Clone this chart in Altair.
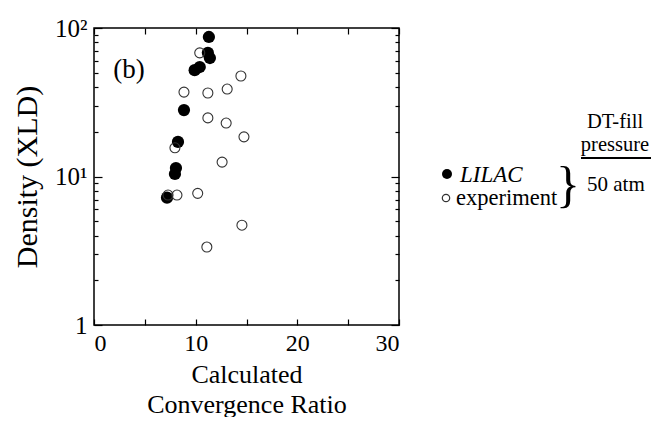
import altair as alt
import pandas as pd

# LILAC (calculated) points
lilac_x = [11.3, 11.2, 11.4, 10.4, 9.9, 8.85, 8.26, 8.06, 7.96, 7.18]
lilac_y = [87, 68, 62.8, 54.6, 52, 28, 17.1, 11.4, 10.4, 7.2]
# experiment points
exp_x = [10.4, 14.45, 8.85, 11.2, 13.1, 11.2, 13.0, 14.75, 7.96, 12.6, 7.28, 8.16, 10.2, 14.55, 11.1]
exp_y = [68, 47.5, 37, 36.5, 38.8, 24.8, 22.9, 18.5, 15.6, 12.5, 7.5, 7.5, 7.7, 4.7, 3.35]

x_ticks = [0, 5, 10, 15, 20, 25, 30]
x_labels = [0, 10, 20, 30]
y_ticks = [1, 2, 3, 4, 5, 6, 7, 8, 9, 10, 20, 30, 40, 50, 60, 70, 80, 90, 100]
y_labels = [1, 10, 100]

W, H = 305, 297
FONT = "Liberation Serif"

lilac = pd.DataFrame({"x": lilac_x, "y": lilac_y})
exp = pd.DataFrame({"x": exp_x, "y": exp_y})
panel = pd.DataFrame({"x": [1.9], "y": [52], "t": ["(b)"]})

xs = alt.Scale(domain=[0, 30], nice=False, zero=False)
ys = alt.Scale(type="log", domain=[1, 100], nice=False)

major_y = "datum.value === 1 || datum.value === 10 || datum.value === 100"

def tick_axis_x(orient):
    return alt.Axis(orient=orient, offset=-H, values=x_ticks, labels=False, title=None,
                    domain=False, grid=False, ticks=True, tickSize=6, tickColor="black",
                    tickWidth=1.2)

def tick_axis_y(orient):
    return alt.Axis(orient=orient, offset=-W, values=y_ticks, labels=False, title=None,
                    domain=False, grid=False, ticks=True,
                    tickSize={"condition": {"test": major_y, "value": 8}, "value": 4},
                    tickColor="black", tickWidth=1.2)

filled = alt.Chart(lilac).mark_point(shape="circle", filled=True, color="black", size=150, opacity=1).encode(
    x=alt.X("x:Q", scale=xs, axis=alt.Axis(orient="bottom", values=x_labels, ticks=False, domain=False,
                                            grid=False, labelFont=FONT, labelFontSize=24, labelColor="black",
                                            labelPadding=6, title=["Calculated", "Convergence Ratio"],
                                            titleFont=FONT, titleFontSize=26, titleFontWeight="normal",
                                            titleColor="black", titlePadding=6, titleLineHeight=30)),
    y=alt.Y("y:Q", scale=ys, axis=alt.Axis(orient="left", values=y_labels, ticks=False, domain=False,
                                            grid=False, labelFont=FONT, labelFontSize=25, labelColor="black",
                                            labelPadding=7,
                                            labelExpr="datum.value == 100 ? '10²' : datum.value == 10 ? '10¹' : '1'",
                                            title="Density (XLD)", titleFont=FONT, titleFontSize=30,
                                            titleFontWeight="normal", titleColor="black", titlePadding=12)),
)

opened = alt.Chart(exp).mark_point(shape="circle", filled=False, color="#333333", size=100, strokeWidth=1.1,
                                   opacity=1).encode(
    x=alt.X("x:Q", scale=xs, axis=tick_axis_x("top")),
    y=alt.Y("y:Q", scale=ys, axis=tick_axis_y("right")),
)

label_b = alt.Chart(panel).mark_text(font=FONT, fontSize=27, align="left", baseline="middle", color="black").encode(
    x=alt.X("x:Q", scale=xs, axis=tick_axis_x("bottom")),
    y=alt.Y("y:Q", scale=ys, axis=tick_axis_y("left")),
    text="t:N",
)

# legend / annotation (outside plot area)
leg_sym = pd.DataFrame({"kind": ["LILAC", "experiment"]})
sym_f = alt.Chart(leg_sym[leg_sym.kind == "LILAC"]).mark_point(shape="circle", filled=True, color="black", size=100,
                                                               opacity=1).encode(
    x=alt.value(353), y=alt.value(146))
sym_o = alt.Chart(leg_sym[leg_sym.kind == "experiment"]).mark_point(shape="circle", filled=False, color="#333333",
                                                                    size=55, strokeWidth=1.2, opacity=1).encode(
    x=alt.value(352), y=alt.value(170))

def txt(s, x, y, size=22, style="normal", align="left"):
    return alt.Chart(pd.DataFrame({"t": [s]})).mark_text(font=FONT, fontSize=size, fontStyle=style, align=align,
                                                         baseline="middle", color="black").encode(
        x=alt.value(x), y=alt.value(y), text="t:N")

t_lilac = txt("LILAC", 366, 147, size=23, style="italic")
t_exp = txt("experiment", 362, 170, size=22.5)
t_brace = txt("}", 474, 158, size=50, align="center")
t_50 = txt("50 atm", 493, 157, size=21)
t_dt = txt("DT-fill", 521, 94, size=20.5, align="center")
t_pr = txt("pressure", 521, 117, size=20.5, align="center")
underline = alt.Chart(pd.DataFrame({"a": [0]})).mark_rule(color="black", strokeWidth=2).encode(
    x=alt.value(487), x2=alt.value(557), y=alt.value(130))

chart = alt.layer(filled, opened, label_b, sym_f, sym_o, t_lilac, t_exp, t_brace, t_50, t_dt, t_pr,
                  underline).resolve_axis(x="independent", y="independent").properties(
    width=W, height=H,
    autosize=alt.AutoSizeParams(type="none"),
    padding={"left": 86, "top": 20, "right": 252, "bottom": 92},
    background="white",
).configure_view(stroke="black", strokeWidth=1.5)

chart.save("out.html", embed_options={"renderer": "svg", "actions": False})
